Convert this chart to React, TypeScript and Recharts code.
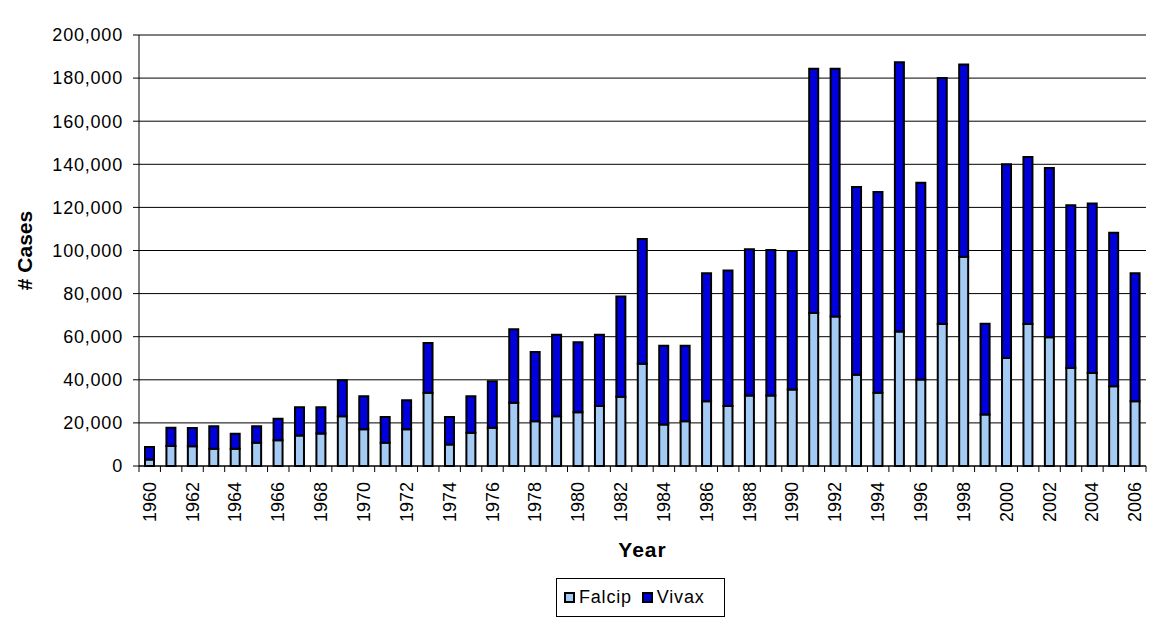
import React from "react";
import {
  BarChart,
  Bar,
  XAxis,
  YAxis,
  CartesianGrid,
  Legend,
  Label,
} from "recharts";

const YEARS = [
  1960, 1961, 1962, 1963, 1964, 1965, 1966, 1967, 1968, 1969,
  1970, 1971, 1972, 1973, 1974, 1975, 1976, 1977, 1978, 1979,
  1980, 1981, 1982, 1983, 1984, 1985, 1986, 1987, 1988, 1989,
  1990, 1991, 1992, 1993, 1994, 1995, 1996, 1997, 1998, 1999,
  2000, 2001, 2002, 2003, 2004, 2005, 2006,
];

const FALCIP = [
  3000, 9300, 9200, 8000, 8000, 10800, 12000, 14200, 15100, 23100,
  17000, 10800, 17000, 34000, 10000, 15400, 17800, 29300, 20800, 23100,
  25000, 27800, 32100, 47500, 19300, 20800, 30100, 27800, 32700, 32700,
  35500, 71000, 69400, 42400, 34000, 62400, 40100, 65900, 97100, 23900,
  50100, 65900, 59800, 45500, 43200, 37000, 30100,
];

const VIVAX = [
  5800, 8500, 8400, 10500, 7000, 7700, 9900, 13100, 12200, 16700,
  15400, 11900, 13500, 23100, 12700, 17000, 21500, 34200, 32100, 37800,
  32400, 33100, 46500, 57800, 36500, 35000, 59400, 62900, 67900, 67500,
  64300, 113300, 114900, 87100, 93200, 124900, 91300, 114200, 89200, 42100,
  89900, 77500, 78500, 75500, 78600, 71200, 59400,
];

const Y_TICKS = [0, 20000, 40000, 60000, 80000, 100000, 120000, 140000, 160000, 180000, 200000];

const SERIES = [
  { key: "falcip", name: "Falcip", color: "#a4cbf3" },
  { key: "vivax", name: "Vivax", color: "#0000dd" },
];

const data = YEARS.map((year, i) => ({
  year,
  falcip: FALCIP[i],
  vivax: VIVAX[i],
}));

const W = 1154;
const H = 624;
const Y_AXIS_W = 139;
const RIGHT = 8;
const FONT = "'Liberation Sans', Arial, sans-serif";
const HALF_BAND = (W - Y_AXIS_W - RIGHT) / YEARS.length / 2;

function XTick(props: any) {
  const { x, y, payload, index } = props;
  const showLabel = payload.value % 2 === 0;
  const ty = y + 16;
  return (
    <g>
      <line x1={x - HALF_BAND} x2={x - HALF_BAND} y1={y} y2={y + 6} stroke="#000" />
      {index === YEARS.length - 1 && (
        <line x1={x + HALF_BAND} x2={x + HALF_BAND} y1={y} y2={y + 6} stroke="#000" />
      )}
      {showLabel && (
        <text
          x={x}
          y={ty}
          transform={`rotate(-90, ${x}, ${ty})`}
          textAnchor="end"
          dominantBaseline="central"
          fontFamily={FONT}
          fontSize={18}
          fill="#000"
        >
          {payload.value}
        </text>
      )}
    </g>
  );
}

function YTitle(props: any) {
  const { viewBox } = props;
  const cx = viewBox.x + 24;
  const cy = viewBox.y + viewBox.height / 2;
  return (
    <text
      x={cx}
      y={cy}
      transform={`rotate(-90, ${cx}, ${cy})`}
      textAnchor="middle"
      dominantBaseline="central"
      fontFamily={FONT}
      fontSize={21}
      fontWeight="bold"
      fill="#000"
    >
      # Cases
    </text>
  );
}

function LegendBox() {
  return (
    <div
      style={{
        border: "1px solid #000",
        boxSizing: "border-box",
        width: 169,
        height: 39,
        display: "flex",
        alignItems: "center",
        paddingLeft: 7,
        fontFamily: FONT,
        fontSize: 18,
        letterSpacing: 0.8,
        color: "#000",
        background: "#fff",
      }}
    >
      {SERIES.map((s) => (
        <React.Fragment key={s.key}>
          <span
            style={{
              display: "inline-block",
              width: 11,
              height: 11,
              boxSizing: "border-box",
              border: "2px solid #000",
              background: s.color,
              marginRight: 4,
            }}
          />
          <span style={{ marginRight: 10 }}>{s.name}</span>
        </React.Fragment>
      ))}
    </div>
  );
}

export default function App() {
  return (
    <div style={{ position: "absolute", left: 0, top: 0, width: W, height: H, background: "#fff" }}>
      <BarChart
        width={W}
        height={H}
        data={data}
        margin={{ top: 35, right: RIGHT, left: 0, bottom: 0 }}
        barSize={9}
      >
        <CartesianGrid vertical={false} stroke="#000" strokeWidth={1} />
        <XAxis
          dataKey="year"
          height={158}
          interval={0}
          tickLine={false}
          tickSize={0}
          tickMargin={0}
          tick={<XTick />}
          axisLine={{ stroke: "#000" }}
        >
          <Label
            value="Year"
            position="insideTop"
            offset={76}
            style={{ fontFamily: FONT, fontSize: 21, fontWeight: "bold", fill: "#000", letterSpacing: 1 }}
          />
        </XAxis>
        <YAxis
          width={Y_AXIS_W}
          domain={[0, 200000]}
          ticks={Y_TICKS}
          interval={0}
          tickSize={6}
          tickMargin={10}
          tickFormatter={(v: number) => v.toLocaleString("en-US")}
          tick={{ fontFamily: FONT, fontSize: 18, fill: "#000", letterSpacing: 0.8 }}
          axisLine={{ stroke: "#000" }}
          tickLine={{ stroke: "#000" }}
        >
          <Label content={<YTitle />} />
        </YAxis>
        <Legend
          layout="horizontal"
          verticalAlign="middle"
          align="center"
          wrapperStyle={{ left: 556, top: 578, width: 169, height: 39 }}
          content={() => <LegendBox />}
        />
        {SERIES.map((s) => (
          <Bar
            key={s.key}
            dataKey={s.key}
            name={s.name}
            stackId="cases"
            fill={s.color}
            stroke="#000"
            strokeWidth={2}
            isAnimationActive={false}
          />
        ))}
      </BarChart>
    </div>
  );
}
